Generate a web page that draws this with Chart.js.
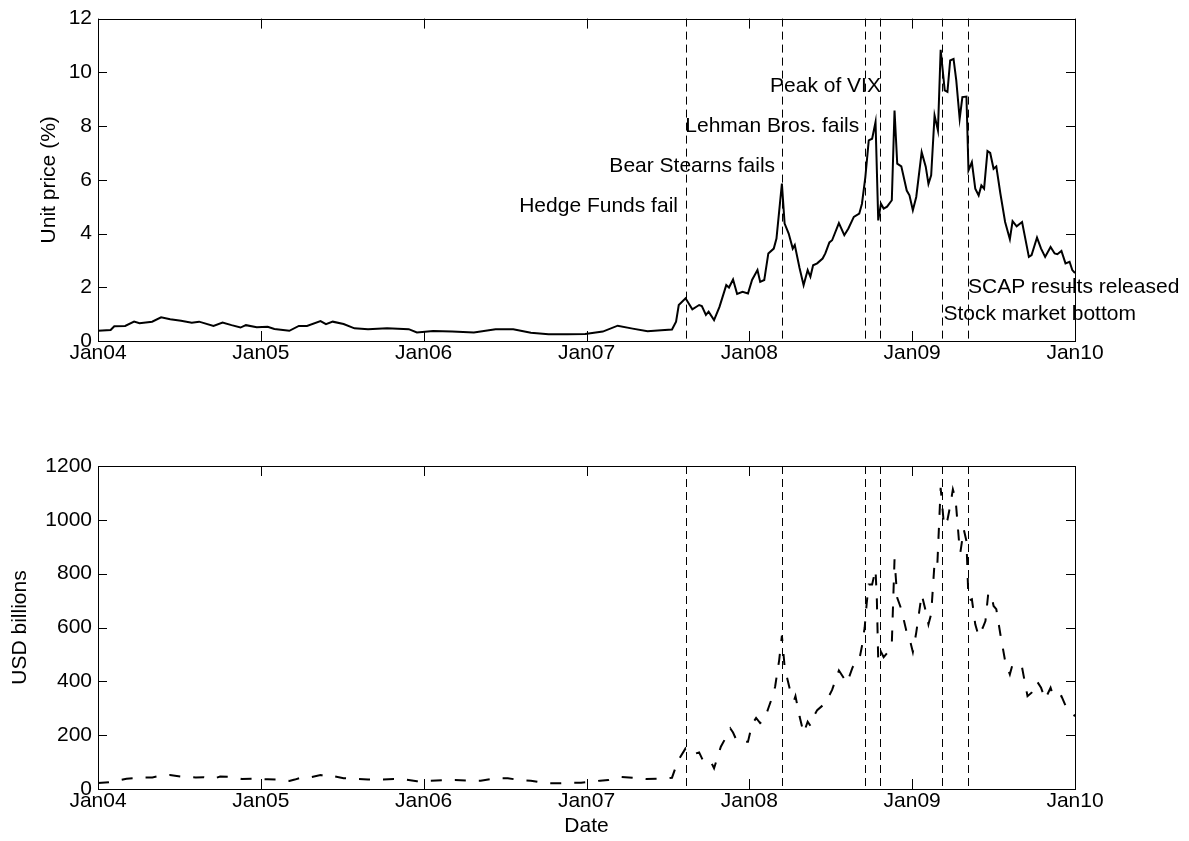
<!DOCTYPE html>
<html>
<head>
<meta charset="utf-8">
<script src="https://cdn.jsdelivr.net/npm/chart.js@4.4.1/dist/chart.umd.min.js"></script>
<style>
  html, body { margin: 0; padding: 0; background: #fff; }
  canvas { position: absolute; left: 0; }
</style>
</head>
<body>
<canvas id="price" width="1189" height="420" style="top:0"></canvas>
<canvas id="volume" width="1189" height="421" style="top:420px"></canvas>
<script>
// x is months since Jan 2004
const tickMonths = [0, 12, 24, 36, 48, 60, 72];
const tickLabels = ["Jan04", "Jan05", "Jan06", "Jan07", "Jan08", "Jan09", "Jan10"];

const eventMonths = [43.3, 50.44, 56.5, 57.6, 62.2, 64.1];
const eventLabels = ["Hedge Funds fail", "Bear Stearns fails", "Lehman Bros. fails",
                     "Peak of VIX", "Stock market bottom", "SCAP results released"];

const priceMonths = [0, 0.93, 1.2, 2.0, 2.66, 3.06, 3.99, 4.65, 5.32, 6.12, 6.91, 7.45, 8.51, 9.18, 9.84,
  10.5, 10.9, 11.7, 12.5, 13.0, 14.1, 14.8, 15.4, 16.4, 16.8, 17.3, 18.1, 18.9, 19.9, 21.3, 22.9, 23.5,
  24.7, 26.1, 27.7, 29.3, 30.6, 31.9, 33.2, 34.6, 35.9, 37.2, 38.3, 39.4, 40.5, 41.5, 42.3, 42.6, 42.8,
  43.3, 43.8, 44.3, 44.5, 44.8, 45.0, 45.4, 45.8, 46.3, 46.5, 46.8, 47.1, 47.5, 47.9, 48.2, 48.6, 48.8,
  49.1, 49.4, 49.8, 50.0, 50.4, 50.6, 50.9, 51.2, 51.35, 51.7, 52.0, 52.3, 52.5, 52.7, 53.0, 53.4, 53.6,
  53.9, 54.1, 54.6, 55.0, 55.3, 55.7, 56.1, 56.3, 56.55, 56.8, 57.05, 57.3, 57.5, 57.7, 57.9, 58.15, 58.5,
  58.7, 58.9, 59.2, 59.6, 59.8, 60.05, 60.3, 60.7, 61.0, 61.2, 61.4, 61.65, 61.9, 62.1, 62.4, 62.6, 62.8,
  63.05, 63.25, 63.5, 63.7, 64.0, 64.15, 64.4, 64.65, 64.9, 65.1, 65.3, 65.55, 65.75, 66.0, 66.2, 66.5,
  66.85, 67.2, 67.4, 67.7, 68.1, 68.6, 68.8, 69.2, 69.5, 69.8, 70.2, 70.5, 70.7, 71.0, 71.3, 71.6, 71.8, 72.0];
const priceValues = [0.38, 0.41, 0.55, 0.56, 0.72, 0.66, 0.72, 0.88, 0.81, 0.75, 0.68, 0.72, 0.56, 0.69, 0.59,
  0.50, 0.59, 0.51, 0.53, 0.45, 0.38, 0.56, 0.56, 0.74, 0.63, 0.72, 0.63, 0.47, 0.44, 0.47, 0.44, 0.32,
  0.37, 0.35, 0.32, 0.44, 0.44, 0.31, 0.25, 0.25, 0.26, 0.35, 0.57, 0.46, 0.36, 0.40, 0.43, 0.72, 1.34,
  1.59, 1.18, 1.34, 1.30, 0.97, 1.09, 0.78, 1.27, 2.08, 1.99, 2.29, 1.75, 1.83, 1.77, 2.27, 2.64, 2.20,
  2.27, 3.26, 3.44, 3.81, 5.86, 4.37, 4.00, 3.44, 3.57, 2.72, 2.08, 2.64, 2.39, 2.82, 2.89, 3.07, 3.26,
  3.67, 3.75, 4.39, 3.94, 4.19, 4.62, 4.74, 5.11, 6.10, 7.47, 7.53, 8.15, 4.49, 5.11, 4.93, 5.00, 5.24,
  8.58, 6.60, 6.50, 5.60, 5.42, 4.87, 5.36, 7.03, 6.49, 5.85, 6.17, 8.40, 7.84, 10.84, 9.33, 9.27, 10.44,
  10.50, 9.70, 8.27, 9.08, 9.10, 6.35, 6.66, 5.67, 5.42, 5.79, 5.67, 7.07, 7.00, 6.41, 6.50, 5.49,
  4.43, 3.79, 4.46, 4.27, 4.43, 3.13, 3.20, 3.85, 3.44, 3.13, 3.50, 3.26, 3.23, 3.35, 2.89, 2.95, 2.64, 2.53];

const volumeMonths = [0, 0.8, 2.1, 2.7, 3.2, 4.0, 4.7, 5.3, 6.1, 7.2, 7.8, 8.5, 9.0, 9.6, 10.3, 10.6, 11.4,
  12.5, 13.3, 14.1, 14.5, 15.0, 15.5, 16.4, 17.0, 17.3, 18.1, 18.9, 19.9, 20.7, 21.8, 22.6, 23.5, 24.5,
  25.5, 26.3, 27.4, 28.2, 29.3, 30.2, 31.1, 31.9, 33.0, 33.8, 35.0, 35.6, 37.0, 37.6, 38.5, 39.4, 40.4,
  41.5, 42.3, 42.6, 42.8, 43.3, 43.8, 44.3, 44.6, 45.1, 45.4, 45.9, 46.3, 46.6, 46.8, 47.1, 47.9, 48.2,
  48.5, 48.8, 49.1, 49.4, 49.7, 49.9, 50.2, 50.4, 50.6, 50.75, 51.0, 51.3, 51.4, 51.7, 52.0, 52.3, 52.5,
  52.8, 53.0, 53.6, 54.1, 54.35, 54.6, 54.9, 55.2, 55.6, 55.9, 56.1, 56.3, 56.5, 56.65, 56.8, 57.05, 57.3,
  57.4, 57.5, 57.7, 57.9, 58.15, 58.5, 58.7, 58.9, 59.2, 59.6, 59.8, 60.05, 60.3, 60.7, 61.0, 61.2, 61.4,
  61.65, 61.85, 62.1, 62.35, 62.6, 62.8, 63.0, 63.2, 63.45, 63.55, 63.8, 64.0, 64.15, 64.4, 64.65, 64.9,
  65.2, 65.4, 65.6, 65.8, 66.0, 66.2, 66.5, 66.85, 67.2, 67.4, 67.7, 68.1, 68.5, 68.8, 69.2, 69.5, 69.8,
  70.2, 70.4, 70.7, 71.0, 71.3, 71.6, 71.9, 72.0];
const volumeValues = [22, 25, 38, 40, 43, 43, 50, 52, 46, 43, 44, 38, 46, 45, 40, 37, 38,
  36, 35, 30, 35, 43, 42, 52, 44, 48, 40, 38, 35, 35, 37, 36, 29, 31,
  33, 33, 31, 31, 40, 40, 33, 31, 22, 21, 23, 23, 31, 33, 45, 42, 37,
  38, 42, 85, 110, 151, 128, 136, 104, 108, 77, 157, 194, 225, 210, 176, 176, 240,
  264, 245, 256, 300, 343, 380, 479, 570, 454, 420, 368, 330, 345, 270, 207, 250, 235,
  275, 293, 319, 368, 405, 440, 417, 394, 451, 476, 480, 531, 600, 690, 760, 760, 816,
  700, 476, 510, 490, 505, 540, 853, 710, 668, 581, 560, 509, 581, 723, 661, 612, 650,
  841, 828, 1119, 977, 1000, 1051, 1113, 1076, 921, 878, 965, 921, 700, 705, 612, 568,
  599, 624, 723, 729, 680, 668, 575, 476, 426, 463, 450, 451, 345, 358, 400, 376, 333,
  376, 345, 338, 345, 310, 300, 277, 270];

// where the event captions sit (month, value, alignment) - top panel only
const captions = [
  { text: eventLabels[0], x: 42.74, y: 5.0, align: "right" },
  { text: eventLabels[1], x: 49.9, y: 6.5, align: "right" },
  { text: eventLabels[2], x: 56.1, y: 8.0, align: "right" },
  { text: eventLabels[3], x: 57.7, y: 9.5, align: "right" },
  { text: eventLabels[5], x: 64.12, y: 2.0, align: "left" },
  { text: eventLabels[4], x: 62.3, y: 1.0, align: "left" },
];

Chart.defaults.font.family = "'Liberation Sans', Arial, Helvetica, sans-serif";
Chart.defaults.font.size = 21;
Chart.defaults.color = "#000";

const FONT = "21px 'Liberation Sans', Arial, Helvetica, sans-serif";

// MATLAB style box with inward ticks on all four sides
const boxTicks = {
  id: "boxTicks",
  afterDatasetsDraw(chart) {
    const { ctx, chartArea: a, scales } = chart;
    ctx.save();
    ctx.strokeStyle = "#000";
    ctx.lineWidth = 1;
    ctx.beginPath();
    scales.x.ticks.forEach((t) => {
      const px = Math.round(scales.x.getPixelForValue(t.value)) + 0.5;
      ctx.moveTo(px, a.bottom); ctx.lineTo(px, a.bottom - 10);
      ctx.moveTo(px, a.top); ctx.lineTo(px, a.top + 10);
    });
    scales.y.ticks.forEach((t) => {
      const py = Math.round(scales.y.getPixelForValue(t.value)) + 0.5;
      ctx.moveTo(a.left, py); ctx.lineTo(a.left + 9, py);
      ctx.moveTo(a.right, py); ctx.lineTo(a.right - 9, py);
    });
    ctx.stroke();
    ctx.strokeRect(Math.round(a.left) + 0.5, Math.round(a.top) + 0.5,
                   Math.round(a.right - a.left), Math.round(a.bottom - a.top));
    ctx.restore();
  },
};

const eventLines = {
  id: "eventLines",
  afterDatasetsDraw(chart) {
    const { ctx, chartArea: a, scales } = chart;
    ctx.save();
    ctx.strokeStyle = "#000";
    ctx.lineWidth = 1;
    ctx.setLineDash([8, 5]);
    eventMonths.forEach((m) => {
      const px = Math.round(scales.x.getPixelForValue(m)) + 0.5;
      ctx.beginPath();
      ctx.moveTo(px, a.top);
      ctx.lineTo(px, a.bottom);
      ctx.stroke();
    });
    ctx.restore();
  },
};

const eventCaptions = {
  id: "eventCaptions",
  afterDraw(chart) {
    const { ctx, scales } = chart;
    ctx.save();
    ctx.font = FONT;
    ctx.fillStyle = "#000";
    ctx.textBaseline = "middle";
    captions.forEach((c) => {
      ctx.textAlign = c.align;
      ctx.fillText(c.text, scales.x.getPixelForValue(c.x), scales.y.getPixelForValue(c.y));
    });
    ctx.restore();
  },
};

function xAxis(canvasH, bottom, title) {
  return {
    type: "linear",
    min: 0,
    max: 72,
    grid: { display: false, drawTicks: false },
    border: { display: false },
    afterBuildTicks: (scale) => { scale.ticks = tickMonths.map((v) => ({ value: v })); },
    afterFit: (scale) => { scale.height = canvasH - bottom; },
    ticks: {
      autoSkip: false,
      maxRotation: 0,
      padding: 0,
      callback: (v) => tickLabels[tickMonths.indexOf(v)],
    },
    title: title ? { display: true, text: title, padding: { top: 0, bottom: 2 } } : { display: false },
  };
}

function yAxis(max, step, title, titlePad) {
  return {
    min: 0,
    max: max,
    grid: { display: false, drawTicks: false },
    border: { display: false },
    afterFit: (scale) => { scale.width = 98; },
    ticks: { stepSize: step, padding: 6, callback: (v) => String(v) },
    title: { display: true, text: title, padding: { top: titlePad, bottom: 0 } },
  };
}

new Chart(document.getElementById("price"), {
  type: "line",
  plugins: [eventLines, boxTicks, eventCaptions],
  data: {
    datasets: [{
      data: priceMonths.map((m, i) => ({ x: m, y: priceValues[i] })),
      borderColor: "#000",
      borderWidth: 2,
      pointRadius: 0,
      tension: 0,
    }],
  },
  options: {
    responsive: false,
    animation: false,
    devicePixelRatio: 1,
    layout: { padding: { left: 0, right: 114, top: 18, bottom: 0 } },
    plugins: { legend: { display: false }, tooltip: { enabled: false } },
    scales: {
      x: xAxis(420, 341, null),
      y: yAxis(12, 2, "Unit price (%)", 37),
    },
  },
});

new Chart(document.getElementById("volume"), {
  type: "line",
  plugins: [eventLines, boxTicks],
  data: {
    datasets: [{
      data: volumeMonths.map((m, i) => ({ x: m, y: volumeValues[i] })),
      borderColor: "#000",
      borderWidth: 2,
      borderDash: [11, 13],
      pointRadius: 0,
      tension: 0,
    }],
  },
  options: {
    responsive: false,
    animation: false,
    devicePixelRatio: 1,
    layout: { padding: { left: 0, right: 114, top: 46, bottom: 0 } },
    plugins: { legend: { display: false }, tooltip: { enabled: false } },
    scales: {
      x: xAxis(421, 369, "Date"),
      y: yAxis(1200, 200, "USD billions", 8),
    },
  },
});
</script>
</body>
</html>
